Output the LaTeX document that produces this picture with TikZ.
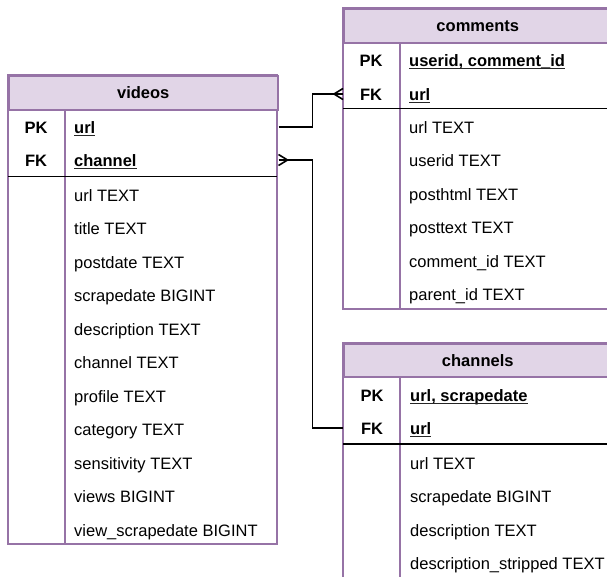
\documentclass[tikz,border=0pt]{standalone}
\usepackage{fontspec}
\setmainfont{Liberation Sans}
\definecolor{hdfill}{HTML}{E1D5E7}
\definecolor{hdline}{HTML}{9673A6}
\newcommand{\tblfont}{\fontsize{16.5}{20}\selectfont}
\tikzset{
	tbl/.style={draw=hdline,line width=1.5pt},
	head/.style={tbl,fill=hdfill,font=\tblfont\bfseries,anchor=north west,inner sep=0pt},
	sep/.style={line width=1.5pt},
	key/.style={font=\tblfont\bfseries,inner sep=0pt,text height=12pt,text depth=0pt},
	field/.style={anchor=west,inner sep=0pt,text height=12pt,text depth=0pt},
	keyfield/.style={field,font=\tblfont\bfseries},
	ul/.style={line width=1.1pt,draw=black!85},
	link/.style={line width=1.6pt},
	crow/.pic={\draw[link] (-9,0) -- (0,-5.5) (-9,0) -- (0,5.5);}
}
\newcommand{\ulnode}[1]{\draw[ul] ([yshift=-2.5pt]#1.south west) -- ([yshift=-2.5pt]#1.south east);}
\begin{document}
\begin{tikzpicture}[x=1pt,y=-1pt,font=\tblfont,line join=miter,line cap=butt]
	\useasboundingbox (0,0) rectangle (607,576);
	% videos
	\draw[tbl] (8,75) rectangle (277,544) (65,109) -- (65,544);
	\node[head,minimum width=269pt,minimum height=34pt] (vid) at (8,75) {videos};
	\draw[sep] (8,176.5) -- (277,176.5);
	\node[key] (vidpk) at (36,127) {PK};
	\node[key] (vidfk) at (36,160) {FK};
	\node[keyfield] (vidpkf) at (74,127) {url};
	\node[keyfield] (vidfkf) at (74,160) {channel};
	\ulnode{vidpkf} \ulnode{vidfkf}
	\foreach \f [count=\i] in {url TEXT,title TEXT,postdate TEXT,scrapedate BIGINT,description TEXT,channel TEXT,profile TEXT,category TEXT,sensitivity TEXT,views BIGINT,view\_scrapedate BIGINT}
		\node[field] (vid-\i) at (74,{195+33.5*(\i-1)}) {\f};
	% comments
	\draw[tbl] (343,8) rectangle (611,309) (400,42) -- (400,309);
	\node[head,minimum width=268pt,minimum height=34pt] (com) at (343,8) {comments};
	\draw[sep] (343,108.5) -- (611,108.5);
	\node[key] (compk) at (371,60) {PK};
	\node[key] (comfk) at (371,94) {FK};
	\node[keyfield] (compkf) at (409,60) {userid, comment\_id};
	\node[keyfield] (comfkf) at (409,94) {url};
	\ulnode{compkf} \ulnode{comfkf}
	\foreach \f [count=\i] in {url TEXT,userid TEXT,posthtml TEXT,posttext TEXT,comment\_id TEXT,parent\_id TEXT}
		\node[field] (com-\i) at (409,{127+33.5*(\i-1)}) {\f};
	% channels
	\draw[tbl] (343,343) rectangle (611,600) (400,376) -- (400,600);
	\node[head,minimum width=268pt,minimum height=33pt] (chan) at (343,343) {channels};
	\draw[sep] (343,444) -- (611,444);
	\node[key] (chanpk) at (372,395) {PK};
	\node[key] (chanfk) at (372,428) {FK};
	\node[keyfield] (chanpkf) at (410,395) {url, scrapedate};
	\node[keyfield] (chanfkf) at (410,428) {url};
	\ulnode{chanpkf} \ulnode{chanfkf}
	\foreach \f [count=\i] in {url TEXT,scrapedate BIGINT,description TEXT,description\_stripped TEXT}
		\node[field] (chan-\i) at (410,{463+33.5*(\i-1)}) {\f};
	% links
	\draw[link] (vid.east |- vidpk) -- ++(34,0) |- (com.west |- comfk);
	\pic at (com.west |- comfk) {crow};
	\draw[link] (vid.east |- vidfk) -- ++(34,0) |- (chan.west |- chanfk);
	\pic[xscale=-1] at (vid.east |- vidfk) {crow};
\end{tikzpicture}
\end{document}
